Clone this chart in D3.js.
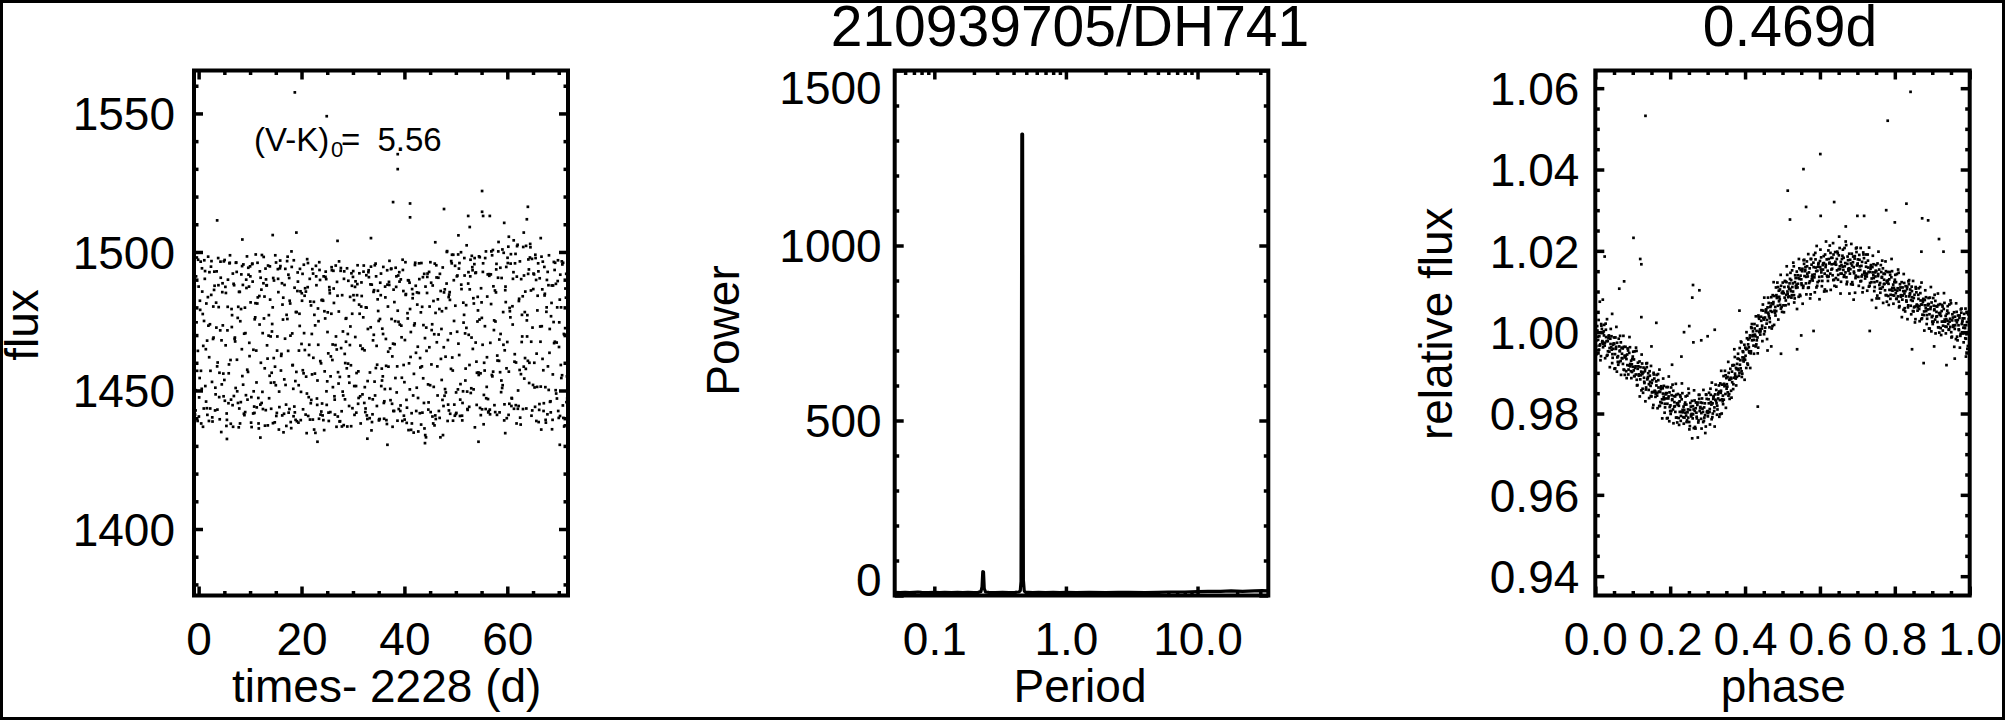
<!DOCTYPE html>
<html><head><meta charset="utf-8">
<script src="https://cdn.jsdelivr.net/npm/d3@7"></script>
<style>
body{margin:0;background:#fff}
svg{display:block}
text{font-family:"Liberation Sans",Arial,Helvetica,sans-serif;fill:#000}
</style></head>
<body><svg id="c" width="2005" height="720"></svg>
<script>
// ---------------- DATA ----------------
const titleMain = "210939705/DH741";
const titlePeriod = "0.469d";

// Panel 1 : light curve (time - 2228 d, flux), three interleaved cadence groups
const lcTime = [
-0.8,-0.6,-0.4,-0.2,
0,0.2,0.4,0.6,0.8,1,1.2,1.4,1.6,1.8,
2,2.2,2.4,2.6,2.8,3,3.2,3.4,3.6,3.8,
4,4.2,4.4,4.6,4.8,5,5.2,5.4,5.6,5.8,
6,6.2,6.4,6.6,6.8,7,7.2,7.4,7.6,7.8,
8,8.2,8.4,8.6,8.8,9,9.2,9.4,9.6,9.8,
10,10.2,10.4,10.6,10.8,11,11.2,11.4,11.6,11.8,
12,12.2,12.4,12.6,12.8,13,13.2,13.4,13.6,13.8,
14,14.2,14.4,14.6,14.8,15,15.2,15.4,15.6,15.8,
16,16.2,16.4,16.6,16.8,17,17.2,17.4,17.6,17.8,
18,18.2,18.4,18.6,18.8,19,19.2,19.4,19.6,19.8,
20,20.2,20.4,20.6,20.8,21,21.2,21.4,21.6,21.8,
22,22.2,22.4,22.6,22.8,23,23.2,23.4,23.6,23.8,
24,24.2,24.4,24.6,24.8,25,25.2,25.4,25.6,25.8,
26,26.2,26.4,26.6,26.8,27,27.2,27.4,27.6,27.8,
28,28.2,28.4,28.6,28.8,29,29.2,29.4,29.6,29.8,
30,30.2,30.4,30.6,30.8,31,31.2,31.4,31.6,31.8,
32,32.2,32.4,32.6,32.8,33,33.2,33.4,33.6,33.8,
34,34.2,34.4,34.6,34.8,35,35.2,35.4,35.6,35.8,
36,36.2,36.4,36.6,36.8,37,37.2,37.4,37.6,37.8,
38,38.2,38.4,38.6,38.8,39,39.2,39.4,39.6,39.8,
40,40.2,40.4,40.6,40.8,41,41.2,41.4,41.6,41.8,
42,42.2,42.4,42.6,42.8,43,43.2,43.4,43.6,43.8,
44,44.2,44.4,44.6,44.8,45,45.2,45.4,45.6,45.8,
46,46.2,46.4,46.6,46.8,47,47.2,47.4,47.6,47.8,
48,48.2,48.4,48.6,48.8,49,49.2,49.4,49.6,49.8,
50,50.2,50.4,50.6,50.8,51,51.2,51.4,51.6,51.8,
52,52.2,52.4,52.6,52.8,53,53.2,53.4,53.6,53.8,
54,54.2,54.4,54.6,54.8,55,55.2,55.4,55.6,55.8,
56,56.2,56.4,56.6,56.8,57,57.2,57.4,57.6,57.8,
58,58.2,58.4,58.6,58.8,59,59.2,59.4,59.6,59.8,
60,60.2,60.4,60.6,60.8,61,61.2,61.4,61.6,61.8,
62,62.2,62.4,62.6,62.8,63,63.2,63.4,63.6,63.8,
64,64.2,64.4,64.6,64.8,65,65.2,65.4,65.6,65.8,
66,66.2,66.4,66.6,66.8,67,67.2,67.4,67.6,67.8,
68,68.2,68.4,68.6,68.8,69,69.2,69.4,69.6,69.8,
70,70.2,70.4,70.6,70.8,71,71.2,71.4,71.6];
const lcFlux = [
1494.5,1442.8,1474.6,1439.0,1487.5,1454.5,1496.5,1450.6,1477.6,1443.5,1490.3,1464.9,1443.6,1483.7,1439.0,1473.9,1494.7,1453.1,1468.6,1486.3,1442.8,1481.7,1458.7,1497.8,1447.6,1471.7,1435.0,1485.5,1456.1,
1453.8,1487.4,1437.2,1471.7,1445.4,1495.9,1461.0,1479.4,1444.7,1488.5,1468.6,1450.9,1492.8,1476.2,1436.7,1485.6,1445.8,1464.9,1488.1,1441.6,1479.9,1448.3,1498.4,1456.7,1487.5,
1494.8,1438.4,1495.6,1441.7,1444.2,1476.4,1464.4,1481.4,1447.3,1484.1,1444.9,1486.4,1449.5,1488.7,1483.9,1494.0,1487.9,1461.5,1469.8,1455.3,1469.5,1456.4,1480.0,1461.7,1438.5,1451.9,1441.9,1493.8,1435.9,
1494.1,1457.2,1488.7,1475.6,1441.6,1468.7,1444.9,1496.7,1464.3,1490.6,1481.4,1436.4,1470.6,1450.6,1444.2,1453.4,1456.7,1485.9,1438.4,1477.7,1485.8,
1466.8,1492.1,1456.2,1484.2,1441.3,1434.6,1487.3,1447.6,
1490.3,1445.4,1470.4,1439.5,1482.0,1456.1,1495.0,1447.1,1479.6,1439.8,1489.9,1459.8,1445.3,1482.4,1435.7,1476.0,1490.2,1453.3,1463.4,1487.3,1442.2,1477.7,1461.0,1493.2,1447.9,1466.4,1436.9,1484.2,1452.5,
1438.8,1493.2,1442.5,1449.6,1437.5,1463.2,1475.9,1458.0,1470.4,1455.1,1466.4,1459.1,1487.8,
1491.0,1482.6,1487.4,1451.6,1484.4,1445.2,1481.0,1447.9,1480.3,1465.0,1476.4,1445.5,1442.2,1491.6,1439.7,1492.7,
1447.2,1488.3,1435.6,1441.4,1485.6,1453.2,1495.8,1466.1,1482.9,1475.1,1439.7,1484.4,1457.9,1455.1,1445.5,1450.5,1468.6,1437.9,1480.3,1489.2,1465.2,1493.8,1445.2,1466.9,1442.6,1475.0,1487.4,1458.7,1491.5,
1492.7,1442.6,1473.4,1439.0,1485.9,
1453.0,1496.3,1446.6,1477.9,1435.7,1488.9,1462.1,1441.8,1483.3,1434.8,1474.2,1487.8,1451.0,1465.8,1485.2,1441.8,1478.2,1458.7,1490.9,1445.5,1468.9,1433.1,1485.2,1452.2,
1492.8,1451.9,1488.9,1473.9,1438.1,1470.3,1441.0,1495.2,1458.7,1490.7,1479.4,1433.1,1472.2,1446.6,1444.4,1448.1,
1462.2,1488.6,1439.0,1483.7,1485.5,1470.6,1495.9,1457.2,1489.8,1440.9,1441.5,1491.2,1450.4,
1494.0,1440.8,1499.9,1440.9,1449.7,1477.3,1470.6,1480.8,1449.6,1488.6,1444.1,1491.2,1450.8,1494.5,1483.3,1495.6,1492.4,1460.4,1474.9,1456.5,1475.6,1456.2,1481.8,1466.5,1437.8,1457.2,1443.3,
1451.3,1491.9,1442.5,1443.1,1491.9,1455.6,1500.7,1471.8,1486.1,1485.4,1441.2,1490.7,1460.7,1456.6,1449.4,1450.9,1478.3,1439.2,1486.2,1494.6,1467.5,1501.9,1445.2,1476.4,1444.4,1480.4,1492.7,1460.4,1499.3,
1438.1,1502.6,1444.4,1457.4,1437.7,1467.5,1484.0,1458.6,1478.3,1457.8,1475.3,1460.7,1493.7,1498.0,1486.1,1497.5,1452.0,1491.9,1444.1,1489.9,1451.3,
1495.9,1443.0,1473.1,1435.9,1486.5,1457.3,1494.6,1451.2,1478.4,1441.4,1488.0,1463.6,1446.1,1481.6,1439.4,1474.7,1493.5,1450.1,1467.3,1489.5,1440.1,1482.8,1459.2,1496.6,1444.6,1470.4,1437.4,1483.5,1455.1];
const lcTime2 = [
-0.7,-0.5,-0.3,-0.1,
0.1,0.3,0.5,0.7,0.9,1.1,1.3,1.5,1.7,1.9,
2.1,2.3,2.5,2.7,2.9,3.1,3.3,3.5,3.7,3.9,
4.1,4.3,4.5,4.7,4.9,5.1,5.3,5.5,5.7,5.9,
6.1,6.3,6.5,6.7,6.9,7.1,7.3,7.5,7.7,7.9,
8.1,8.3,8.5,8.7,8.9,9.1,9.3,9.5,9.7,9.9,
10.1,10.3,10.5,10.7,10.9,11.1,11.3,11.5,11.7,11.9,
12.1,12.3,12.5,12.7,12.9,13.1,13.3,13.5,13.7,13.9,
14.1,14.3,14.5,14.7,14.9,15.1,15.3,15.5,15.7,15.9,
16.1,16.3,16.5,16.7,16.9,17.1,17.3,17.5,17.7,17.9,
18.1,18.3,18.5,18.7,18.9,19.1,19.3,19.5,19.7,19.9,
20.1,20.3,20.5,20.7,20.9,21.1,21.3,21.5,21.7,21.9,
22.1,22.3,22.5,22.7,22.9,23.1,23.3,23.5,23.7,23.9,
24.1,24.3,24.5,24.7,24.9,25.1,25.3,25.5,25.7,25.9,
26.1,26.3,26.5,26.7,26.9,27.1,27.3,27.5,27.7,27.9,
28.1,28.3,28.5,28.7,28.9,29.1,29.3,29.5,29.7,29.9,
30.1,30.3,30.5,30.7,30.9,31.1,31.3,31.5,31.7,31.9,
32.1,32.3,32.5,32.7,32.9,33.1,33.3,33.5,33.7,33.9,
34.1,34.3,34.5,34.7,34.9,35.1,35.3,35.5,35.7,35.9,
36.1,36.3,36.5,36.7,36.9,37.1,37.3,37.5,37.7,37.9,
38.1,38.3,38.5,38.7,38.9,39.1,39.3,39.5,39.7,39.9,
40.1,40.3,40.5,40.7,40.9,41.1,41.3,41.5,41.7,41.9,
42.1,42.3,42.5,42.7,42.9,43.1,43.3,43.5,43.7,43.9,
44.1,44.3,44.5,44.7,44.9,45.1,45.3,45.5,45.7,45.9,
46.1,46.3,46.5,46.7,46.9,47.1,47.3,47.5,47.7,47.9,
48.1,48.3,48.5,48.7,48.9,49.1,49.3,49.5,49.7,49.9,
50.1,50.3,50.5,50.7,50.9,51.1,51.3,51.5,51.7,51.9,
52.1,52.3,52.5,52.7,52.9,53.1,53.3,53.5,53.7,53.9,
54.1,54.3,54.5,54.7,54.9,55.1,55.3,55.5,55.7,55.9,
56.1,56.3,56.5,56.7,56.9,57.1,57.3,57.5,57.7,57.9,
58.1,58.3,58.5,58.7,58.9,59.1,59.3,59.5,59.7,59.9,
60.1,60.3,60.5,60.7,60.9,61.1,61.3,61.5,61.7,61.9,
62.1,62.3,62.5,62.7,62.9,63.1,63.3,63.5,63.7,63.9,
64.1,64.3,64.5,64.7,64.9,65.1,65.3,65.5,65.7,65.9,
66.1,66.3,66.5,66.7,66.9,67.1,67.3,67.5,67.7,67.9,
68.1,68.3,68.5,68.7,68.9,69.1,69.3,69.5,69.7,69.9,
70.1,70.3,70.5,70.7,70.9,71.1,71.3,71.5,71.7];
const lcFlux2 = [
1441.3,1491.2,1457.1,1497.2,1447.5,1479.1,1438.1,1485.7,1466.1,1497.0,1451.6,1481.4,1441.2,1473.4,1492.7,1457.1,1496.7,1438.8,1469.1,1487.8,
1448.6,1493.0,1460.1,1480.1,1439.6,1490.7,1452.2,1473.5,1496.6,1446.3,1485.2,1439.4,1490.0,1459.4,1498.8,1446.7,1477.2,1436.9,1488.0,1467.7,
1496.2,1449.7,1480.2,1443.5,1475.0,1491.9,1455.2,1495.5,1441.1,1470.7,1487.0,1446.7,1491.8,1462.4,
1481.8,1436.8,1489.3,1449.7,1475.7,1499.1,1443.9,1483.6,1436.3,1493.0,1460.0,1498.9,1443.3,1476.0,1437.3,1490.1,1466.3,1495.1,1447.2,1482.8,
1443.4,1474.0,1490.6,1452.9,1498.8,1440.8,1469.5,1485.5,1444.0,1494.9,1463.2,1481.0,1434.9,1488.1,1452.0,1477.3,1498.3,1442.0,1482.4,1438.6,
1494.6,1459.2,1497.0,1442.1,1478.3,1438.9,1489.3,1464.4,1493.9,1449.5,
1482.4,1443.2,1470.7,1486.9,1455.0,1497.4,1440.8,1466.5,1482.1,1446.6,1493.8,1461.8,1477.3,1434.7,1488.0,1453.6,1475.0,1493.5,1441.3,1482.6,
1441.0,1491.2,1456.9,1492.9,1444.8,1478.2,1439.0,1485.1,1462.3,1493.4,1451.2,1481.6,1441.3,1469.5,1489.2,1456.6,1496.6,1438.9,1465.3,1484.4,
1448.2,1493.0,1459.9,1476.1,1437.0,1489.6,1452.8,1473.1,1492.3,1443.6,
1484.4,1441.2,1489.4,1456.3,1495.2,1447.3,1477.7,1438.1,1484.1,1465.1,1495.1,1451.2,1480.0,1441.0,1472.2,1490.9,1456.5,1494.7,1438.6,1468.1,
1486.2,1448.2,1491.2,1459.3,1478.7,1439.6,1488.9,1451.6,1472.3,1494.6,1446.1,1483.6,1439.3,1488.2,1458.6,1496.8,1446.5,1475.8,1436.9,1486.4,
1466.7,1494.3,1449.3,1478.8,1443.3,1473.8,1490.1,1454.6,1493.5,1440.9,
1468.2,1484.8,1443.8,1489.8,1459.8,1479.4,1435.8,1486.6,1448.2,1473.5,1496.1,1442.6,1481.0,1435.2,1490.2,1458.3,1496.0,1442.0,1473.6,1436.3,
1487.5,1464.3,1492.2,1445.7,1480.3,1442.2,1471.8,1487.9,1451.3,1495.8,1439.7,1467.4,1482.9,1442.6,1492.1,1461.4,1478.6,1433.9,1485.4,1450.5,
1479.7,1500.3,1444.9,1484.6,1441.6,1496.7,1461.9,1499.0,1444.9,1480.6,1441.9,1491.5,1466.9,1496.0,1452.3,1486.6,1445.5,1474.5,1491.5,1457.9,
1502.4,1443.0,1470.1,1486.5,1449.1,1498.6,1465.0,1481.4,1436.7,1492.6,1456.4,1478.9,1498.4,1443.7,1486.9,1443.2,1495.9,1460.0,1497.8,1447.2,
1483.9,1442.1,1491.4,1467.2,1500.2,1455.1,1487.6,1444.7,1474.9,1495.7,1460.8,1503.6,1442.1,1470.4,1490.6,1451.9,1499.7,1464.5,1481.9,1440.0,
1496.0,1456.8,1478.6,1499.2,1447.1,1490.3,1443.4,1495.9,1460.1,1502.1,1450.0,1483.1,1440.2,1490.2,1469.5,1501.8,1454.3,1485.7,1443.5,1477.2,
1497.3,1460.0,1501.7,1440.9,1472.7,1492.2,1451.1,1497.8,1463.3,1484.2,
1438.6,1490.5,1451.4,1473.2,1496.5,1445.4,1484.9,1438.4,1489.9,1458.7,1498.8,1445.9,1476.8,1436.0,1487.9,1467.1,1496.1,1448.9,1480.0,1442.6,
1474.6,1491.8,1454.5,1495.5,1440.1,1470.2,1486.8,1445.8,1491.8];
const lcTime3 = [
-0.75,-0.55,-0.35,-0.15,
0.05,0.25,0.45,0.65,0.85,1.05,1.25,1.45,1.65,1.85,
2.05,2.25,2.45,2.65,2.85,3.05,3.25,3.45,3.65,3.85,
4.05,4.25,4.45,4.65,4.85,5.05,5.25,5.45,5.65,5.85,
6.05,6.25,6.45,6.65,6.85,7.05,7.25,7.45,7.65,7.85,
8.05,8.25,8.45,8.65,8.85,9.05,9.25,9.45,9.65,9.85,
10.05,10.25,10.45,10.65,10.85,11.05,11.25,11.45,11.65,11.85,
12.05,12.25,12.45,12.65,12.85,13.05,13.25,13.45,13.65,13.85,
14.05,14.25,14.45,14.65,14.85,15.05,15.25,15.45,15.65,15.85,
16.05,16.25,16.45,16.65,16.85,17.05,17.25,17.45,17.65,17.85,
18.05,18.25,18.45,18.65,18.85,19.05,19.25,19.45,19.65,19.85,
20.05,20.25,20.45,20.65,20.85,21.05,21.25,21.45,21.65,21.85,
22.05,22.25,22.45,22.65,22.85,23.05,23.25,23.45,23.65,23.85,
24.05,24.25,24.45,24.65,24.85,25.05,25.25,25.45,25.65,25.85,
26.05,26.25,26.45,26.65,26.85,27.05,27.25,27.45,27.65,27.85,
28.05,28.25,28.45,28.65,28.85,29.05,29.25,29.45,29.65,29.85,
30.05,30.25,30.45,30.65,30.85,31.05,31.25,31.45,31.65,31.85,
32.05,32.25,32.45,32.65,32.85,33.05,33.25,33.45,33.65,33.85,
34.05,34.25,34.45,34.65,34.85,35.05,35.25,35.45,35.65,35.85,
36.05,36.25,36.45,36.65,36.85,37.05,37.25,37.45,37.65,37.85,
38.05,38.25,38.45,38.65,38.85,39.05,39.25,39.45,39.65,39.85,
40.05,40.25,40.45,40.65,40.85,41.05,41.25,41.45,41.65,41.85,
42.05,42.25,42.45,42.65,42.85,43.05,43.25,43.45,43.65,43.85,
44.05,44.25,44.45,44.65,44.85,45.05,45.25,45.45,45.65,45.85,
46.05,46.25,46.45,46.65,46.85,47.05,47.25,47.45,47.65,47.85,
48.05,48.25,48.45,48.65,48.85,49.05,49.25,49.45,49.65,49.85,
50.05,50.25,50.45,50.65,50.85,51.05,51.25,51.45,51.65,51.85,
52.05,52.25,52.45,52.65,52.85,53.05,53.25,53.45,53.65,53.85,
54.05,54.25,54.45,54.65,54.85,55.05,55.25,55.45,55.65,55.85,
56.05,56.25,56.45,56.65,56.85,57.05,57.25,57.45,57.65,57.85,
58.05,58.25,58.45,58.65,58.85,59.05,59.25,59.45,59.65,59.85,
60.05,60.25,60.45,60.65,60.85,61.05,61.25,61.45,61.65,61.85,
62.05,62.25,62.45,62.65,62.85,63.05,63.25,63.45,63.65,63.85,
64.05,64.25,64.45,64.65,64.85,65.05,65.25,65.45,65.65,65.85,
66.05,66.25,66.45,66.65,66.85,67.05,67.25,67.45,67.65,67.85,
68.05,68.25,68.45,68.65,68.85,69.05,69.25,69.45,69.65,69.85,
70.05,70.25,70.45,70.65,70.85,71.05,71.25,71.45,71.65];
const lcFlux3 = [
1487.6,1450.1,1498.0,1464.3,1440.6,1482.4,1457.1,1494.1,1436.9,1475.1,1493.1,1446.0,1468.0,1498.3,1462.0,1443.5,1484.5,1440.3,1480.3,1492.9,
1451.0,1472.7,1443.1,1488.0,1456.4,1496.5,1468.1,1488.7,1447.9,1497.1,1466.3,1441.7,1480.2,1456.2,1496.1,1438.0,1472.9,1492.2,1448.0,1469.1,
1496.1,1461.1,1445.5,1485.6,1438.1,1479.4,1494.9,1452.1,1470.5,1442.2,1490.0,1457.5,1494.3,1467.2,
1491.2,1447.6,1495.8,1464.7,1441.9,1481.5,1452.9,1496.1,1438.1,1473.8,1490.7,1445.5,1470.7,1498.2,1458.0,1442.9,1488.0,1437.4,1477.2,1494.8,
1452.8,1471.3,1438.2,1489.7,1458.6,1496.2,1464.4,1490.3,1449.6,1496.9,1462.5,1441.0,1483.5,1454.0,1493.9,1437.2,1475.8,1491.8,1443.3,1469.8,
1500.2,1459.1,1440.7,1487.1,1439.4,1478.3,1492.6,1451.9,1473.3,1439.3,
1485.1,1457.3,1495.4,1464.6,1485.7,1448.9,1496.0,1462.8,1439.5,1480.7,1455.8,1492.2,1435.9,1473.5,1491.2,1444.8,1466.5,1496.3,1460.6,1442.4,
1482.7,1439.3,1478.6,1491.0,1449.7,1471.1,1442.0,1486.2,1455.1,1494.5,1466.6,1486.8,1446.7,1495.1,1464.8,1440.6,1478.5,1454.9,1494.2,1437.0,
1471.3,1490.3,1446.8,1467.6,1494.1,1459.7,1444.4,1483.8,1437.1,1477.7,
1493.1,1451.6,1469.3,1442.0,1488.4,1456.9,1492.3,1466.2,1489.0,1448.6,1492.9,1464.5,1443.5,1479.9,1453.4,1493.4,1440.0,1472.8,1488.2,1446.8,
1470.1,1495.2,1458.1,1444.4,1486.0,1439.2,1475.8,1492.2,1453.6,1470.4,1439.8,1487.5,1458.9,1493.4,1464.0,1488.1,1450.6,1494.0,1462.3,1442.6,
1481.9,1454.5,1491.2,1439.1,1474.8,1489.3,1444.6,1469.2,1497.2,1459.2,
1439.5,1484.5,1438.3,1476.0,1489.7,1450.4,1471.1,1438.1,1484.8,1456.0,1495.3,1463.6,1485.4,1447.3,1495.9,1461.7,1437.7,1480.2,1454.4,1492.1,
1433.9,1472.7,1491.0,1443.1,1465.6,1496.3,1459.4,1440.6,1482.3,1437.4,1478.0,1490.8,1448.2,1470.2,1440.1,1485.9,1453.8,1494.4,1465.6,1486.5,
1449.3,1500.0,1468.2,1442.8,1482.7,1457.8,1499.0,1439.1,1475.1,1495.0,1449.3,1471.2,1499.1,1462.8,1446.7,1488.2,1439.2,1481.7,1497.8,1453.6,
1472.6,1443.3,1492.7,1459.2,1497.2,1469.1,1493.4,1450.4,1497.8,1467.3,1444.8,1483.8,1455.6,1498.1,1441.1,1476.2,1492.8,1448.4,1473.2,1500.2,
1462.0,1446.9,1492.0,1441.4,1481.2,1498.8,1456.8,1475.3,1442.2,1493.7,1462.6,1500.2,1468.4,1494.3,1453.6,1500.9,1466.5,1445.0,1487.5,1458.0,
1497.9,1441.2,1479.8,1495.8,1447.3,1473.8,1504.2,1463.1,1444.7,1491.1,1443.4,1482.3,1496.6,1455.9,1477.3,1443.3,1491.5,1461.7,1502.2,1469.5,
1492.1,1452.7,1502.9,1467.6,1442.8,1486.6,1460.0,1499.0,1439.0,1478.9,
1493.0,1445.1,1467.6,1498.3,1461.4,1442.6,1484.3,1439.4,1480.0,1492.8,1450.2,1472.2,1442.1,1487.9,1455.8,1496.4,1467.6,1488.5,1447.1,1497.0,
1465.7,1440.8,1480.0,1455.5,1496.1,1437.0,1472.5,1492.1,1447.1];
const lcOutTime = [18.7,24.9,38.7,38.7,37.8,41.1,41.1,47.7,55.1,55.1,55.3,56.6,52.4,52.7,64.0,63.8,59.4,3.6,19.0,14.4,8.5,27.0,33.5,46.0,50.5,60.3,63.2,66.5,23.1,36.7,54.4,70.2,32.8,59.6,5.5,12.0,44.0];
const lcOutFlux = [1557.6,1549.0,1535.3,1529.9,1518.0,1517.5,1512.5,1515.5,1522.0,1514.5,1513.0,1513.0,1513.0,1509.0,1516.3,1511.8,1510.5,1511.4,1507.0,1506.1,1504.5,1504.0,1505.0,1503.5,1506.0,1505.5,1507.0,1505.0,1431.5,1430.4,1431.5,1430.4,1432.6,1434.6,1432.5,1433.0,1431.0];

// Panel 2 : periodogram (period d, power)
const perPeriod = [0.05,0.055,0.06,0.065,0.07,0.075,0.08,0.09,0.1,0.11,0.12,0.135,0.15,0.165,0.18,0.2,0.215,0.226,0.2305,0.2335,0.2365,0.2395,0.245,0.26,0.29,0.33,0.37,0.41,0.44,0.45,0.456,0.4625,0.4685,0.475,0.482,0.49,0.52,0.56,0.62,0.7,0.8,0.9,1.0,1.2,1.5,2,2.5,3,4,5,6,8,10,12,15,18,22,27,31,34.5];
const perPower  = [9,8,9,8,9,10,9,8,9,8,9,8,9,8,9,8,9,11,25,68,67,20,10,9,8,9,8,9,10,14,40,1318,1318,45,14,10,9,8,9,8,9,8,9,8,9,8,9,9,8,9,10,10,11,12,12,13,12,13,14,13];

// Panel 3 : folded light curve (phase, relative flux), three groups + outliers
const foldPhase = [
0.0013,0.0038,0.0063,0.0088,0.0113,0.0138,0.0163,0.0188, 0.0213,0.0238,0.0263,0.0288,0.0313,0.0338,0.0363,0.0388,
0.0413,0.0438,0.0463,0.0488,0.0513,0.0538,0.0563,0.0588, 0.0613,0.0638,0.0663,0.0688,0.0713,0.0738,0.0763,0.0788,
0.0813,0.0838,0.0863,0.0888,0.0913,0.0938,0.0963,0.0988, 0.1013,0.1038,0.1063,0.1088,0.1113,0.1138,0.1163,0.1188,
0.1213,0.1238,0.1263,0.1288,0.1313,0.1338,0.1363,0.1388, 0.1413,0.1438,0.1463,0.1488,0.1513,0.1538,0.1563,0.1588,
0.1613,0.1638,0.1663,0.1688,0.1713,0.1738,0.1763,0.1788, 0.1813,0.1838,0.1863,0.1888,0.1913,0.1938,0.1963,0.1988,
0.2013,0.2038,0.2063,0.2088,0.2113,0.2138,0.2163,0.2188, 0.2213,0.2238,0.2263,0.2288,0.2313,0.2338,0.2363,0.2388,
0.2413,0.2438,0.2463,0.2488,0.2513,0.2538,0.2563,0.2588, 0.2613,0.2638,0.2663,0.2688,0.2713,0.2738,0.2763,0.2788,
0.2813,0.2838,0.2863,0.2888,0.2913,0.2938,0.2963,0.2988, 0.3013,0.3038,0.3063,0.3088,0.3113,0.3138,0.3163,0.3188,
0.3213,0.3238,0.3263,0.3288,0.3313,0.3338,0.3363,0.3388, 0.3413,0.3438,0.3463,0.3488,0.3513,0.3538,0.3563,0.3588,
0.3613,0.3638,0.3663,0.3688,0.3713,0.3738,0.3763,0.3788, 0.3813,0.3838,0.3863,0.3888,0.3913,0.3938,0.3963,0.3988,
0.4013,0.4038,0.4063,0.4088,0.4113,0.4138,0.4163,0.4188, 0.4213,0.4238,0.4263,0.4288,0.4313,0.4338,0.4363,0.4388,
0.4413,0.4438,0.4463,0.4488,0.4513,0.4538,0.4563,0.4588, 0.4613,0.4638,0.4663,0.4688,0.4713,0.4738,0.4763,0.4788,
0.4813,0.4838,0.4863,0.4888,0.4913,0.4938,0.4963,0.4988, 0.5013,0.5038,0.5063,0.5088,0.5113,0.5138,0.5163,0.5188,
0.5213,0.5238,0.5263,0.5288,0.5313,0.5338,0.5363,0.5388, 0.5413,0.5438,0.5463,0.5488,0.5513,0.5538,0.5563,0.5588,
0.5613,0.5638,0.5663,0.5688,0.5713,0.5738,0.5763,0.5788, 0.5813,0.5838,0.5863,0.5888,0.5913,0.5938,0.5963,0.5988,
0.6013,0.6038,0.6063,0.6088,0.6113,0.6138,0.6163,0.6188, 0.6213,0.6238,0.6263,0.6288,0.6313,0.6338,0.6363,0.6388,
0.6413,0.6438,0.6463,0.6488,0.6513,0.6538,0.6563,0.6588, 0.6613,0.6638,0.6663,0.6688,0.6713,0.6738,0.6763,0.6788,
0.6813,0.6838,0.6863,0.6888,0.6913,0.6938,0.6963,0.6988, 0.7013,0.7038,0.7063,0.7088,0.7113,0.7138,0.7163,0.7188,
0.7213,0.7238,0.7263,0.7288,0.7313,0.7338,0.7363,0.7388, 0.7413,0.7438,0.7463,0.7488,0.7513,0.7538,0.7563,0.7588,
0.7613,0.7638,0.7663,0.7688,0.7713,0.7738,0.7763,0.7788, 0.7813,0.7838,0.7863,0.7888,0.7913,0.7938,0.7963,0.7988,
0.8013,0.8038,0.8063,0.8088,0.8113,0.8138,0.8163,0.8188, 0.8213,0.8238,0.8263,0.8288,0.8313,0.8338,0.8363,0.8388,
0.8413,0.8438,0.8463,0.8488,0.8513,0.8538,0.8563,0.8588, 0.8613,0.8638,0.8663,0.8688,0.8713,0.8738,0.8763,0.8788,
0.8813,0.8838,0.8863,0.8888,0.8913,0.8938,0.8963,0.8988, 0.9013,0.9038,0.9063,0.9088,0.9113,0.9138,0.9163,0.9188,
0.9213,0.9238,0.9263,0.9288,0.9313,0.9338,0.9363,0.9388, 0.9413,0.9438,0.9463,0.9488,0.9513,0.9538,0.9563,0.9588,
0.9613,0.9638,0.9663,0.9688,0.9713,0.9738,0.9763,0.9788, 0.9813,0.9838,0.9863,0.9888,0.9913,0.9938,0.9963,0.9988];
const foldFlux = [
1.0005,0.9946,0.9989,1.0030,0.9967,0.9931,1.0016,0.9978, 0.9971,1.0018,0.9936,0.9988,1.0032,0.9953,0.9992,0.9914,
1.0008,0.9957,0.9937,0.9972,0.9910,0.9987,1.0013,0.9938, 0.9920,0.9965,0.9991,0.9895,0.9947,0.9922,0.9964,0.9895,
0.9942,0.9887,0.9960,0.9908,0.9988,0.9916,0.9887,0.9934, 0.9952,0.9892,0.9912,0.9962,0.9869,0.9925,0.9893,0.9842,
0.9894,0.9945,0.9861,0.9913,0.9875,0.9830,0.9923,0.9884, 0.9899,0.9838,0.9878,0.9917,0.9852,0.9814,0.9896,0.9856,
0.9849,0.9895,0.9813,0.9864,0.9908,0.9828,0.9867,0.9788, 0.9886,0.9835,0.9815,0.9850,0.9788,0.9865,0.9891,0.9816,
0.9799,0.9845,0.9871,0.9776,0.9828,0.9804,0.9846,0.9778, 0.9826,0.9772,0.9845,0.9794,0.9874,0.9803,0.9775,0.9822,
0.9842,0.9779,0.9803,0.9861,0.9761,0.9826,0.9793,0.9739, 0.9798,0.9857,0.9767,0.9827,0.9788,0.9741,0.9846,0.9806,
0.9827,0.9763,0.9812,0.9858,0.9790,0.9752,0.9846,0.9805, 0.9801,0.9851,0.9773,0.9828,0.9876,0.9800,0.9843,0.9768,
0.9871,0.9825,0.9810,0.9850,0.9792,0.9874,0.9905,0.9835, 0.9823,0.9873,0.9905,0.9814,0.9872,0.9852,0.9900,0.9836,
0.9888,0.9839,0.9918,0.9872,0.9958,0.9892,0.9869,0.9922, 0.9947,0.9893,0.9920,0.9977,0.9890,0.9953,0.9928,0.9883,
0.9942,1.0000,0.9923,0.9982,0.9950,0.9912,1.0012,0.9980, 1.0002,0.9947,0.9994,1.0039,0.9980,0.9948,1.0037,1.0003,
1.0002,1.0054,0.9978,1.0035,1.0085,1.0011,1.0056,0.9983, 1.0085,1.0039,1.0025,1.0065,1.0009,1.0091,1.0123,1.0053,
1.0041,1.0091,1.0122,1.0031,1.0087,1.0067,1.0114,1.0050, 1.0100,1.0049,1.0126,1.0078,1.0162,1.0094,1.0069,1.0120,
1.0146,1.0085,1.0111,1.0171,1.0073,1.0140,1.0109,1.0057, 1.0119,1.0180,1.0092,1.0153,1.0116,1.0070,1.0177,1.0138,
1.0160,1.0093,1.0144,1.0192,1.0121,1.0083,1.0180,1.0137, 1.0135,1.0190,1.0098,1.0159,1.0212,1.0123,1.0170,1.0081,
1.0203,1.0147,1.0126,1.0169,1.0100,1.0191,1.0223,1.0139, 1.0126,1.0180,1.0213,1.0104,1.0167,1.0140,1.0191,1.0114,
1.0173,1.0112,1.0198,1.0141,1.0235,1.0155,1.0124,1.0180, 1.0203,1.0136,1.0162,1.0223,1.0118,1.0186,1.0151,1.0095,
1.0155,1.0217,1.0123,1.0186,1.0145,1.0097,1.0206,1.0164, 1.0179,1.0114,1.0162,1.0207,1.0137,1.0098,1.0191,1.0149,
1.0139,1.0191,1.0102,1.0159,1.0208,1.0121,1.0165,1.0079, 1.0188,1.0133,1.0111,1.0151,1.0083,1.0169,1.0198,1.0116,
1.0097,1.0148,1.0176,1.0072,1.0129,1.0103,1.0150,1.0075, 1.0127,1.0067,1.0148,1.0092,1.0180,1.0102,1.0070,1.0123,
1.0141,1.0082,1.0102,1.0154,1.0061,1.0118,1.0087,1.0037, 1.0090,1.0143,1.0059,1.0113,1.0075,1.0032,1.0125,1.0088,
1.0105,1.0044,1.0086,1.0126,1.0061,1.0024,1.0107,1.0068, 1.0061,1.0108,1.0027,1.0078,1.0122,1.0043,1.0082,1.0004,
1.0103,1.0052,1.0033,1.0069,1.0009,1.0085,1.0111,1.0037, 1.0020,1.0065,1.0092,0.9997,1.0050,1.0025,1.0067,0.9999,
1.0047,0.9993,1.0067,1.0016,1.0096,1.0026,0.9997,1.0045, 1.0064,1.0006,1.0026,1.0078,0.9987,1.0044,1.0013,0.9964,
1.0017,1.0071,0.9989,1.0041,1.0005,0.9962,1.0056,1.0020, 1.0034,0.9975,1.0017,1.0058,0.9995,0.9959,1.0044,1.0006];
const foldPhase2 = [
0.0001,0.0026,0.0051,0.0076,0.0101,0.0126,0.0151,0.0176, 0.0201,0.0226,0.0251,0.0276,0.0301,0.0326,0.0351,0.0376,
0.0401,0.0426,0.0451,0.0476,0.0501,0.0526,0.0551,0.0576, 0.0601,0.0626,0.0651,0.0676,0.0701,0.0726,0.0751,0.0776,
0.0801,0.0826,0.0851,0.0876,0.0901,0.0926,0.0951,0.0976, 0.1001,0.1026,0.1051,0.1076,0.1101,0.1126,0.1151,0.1176,
0.1201,0.1226,0.1251,0.1276,0.1301,0.1326,0.1351,0.1376, 0.1401,0.1426,0.1451,0.1476,0.1501,0.1526,0.1551,0.1576,
0.1601,0.1626,0.1651,0.1676,0.1701,0.1726,0.1751,0.1776, 0.1801,0.1826,0.1851,0.1876,0.1901,0.1926,0.1951,0.1976,
0.2001,0.2026,0.2051,0.2076,0.2101,0.2126,0.2151,0.2176, 0.2201,0.2226,0.2251,0.2276,0.2301,0.2326,0.2351,0.2376,
0.2401,0.2426,0.2451,0.2476,0.2501,0.2526,0.2551,0.2576, 0.2601,0.2626,0.2651,0.2676,0.2701,0.2726,0.2751,0.2776,
0.2801,0.2826,0.2851,0.2876,0.2901,0.2926,0.2951,0.2976, 0.3001,0.3026,0.3051,0.3076,0.3101,0.3126,0.3151,0.3176,
0.3201,0.3226,0.3251,0.3276,0.3301,0.3326,0.3351,0.3376, 0.3401,0.3426,0.3451,0.3476,0.3501,0.3526,0.3551,0.3576,
0.3601,0.3626,0.3651,0.3676,0.3701,0.3726,0.3751,0.3776, 0.3801,0.3826,0.3851,0.3876,0.3901,0.3926,0.3951,0.3976,
0.4001,0.4026,0.4051,0.4076,0.4101,0.4126,0.4151,0.4176, 0.4201,0.4226,0.4251,0.4276,0.4301,0.4326,0.4351,0.4376,
0.4401,0.4426,0.4451,0.4476,0.4501,0.4526,0.4551,0.4576, 0.4601,0.4626,0.4651,0.4676,0.4701,0.4726,0.4751,0.4776,
0.4801,0.4826,0.4851,0.4876,0.4901,0.4926,0.4951,0.4976, 0.5001,0.5026,0.5051,0.5076,0.5101,0.5126,0.5151,0.5176,
0.5201,0.5226,0.5251,0.5276,0.5301,0.5326,0.5351,0.5376, 0.5401,0.5426,0.5451,0.5476,0.5501,0.5526,0.5551,0.5576,
0.5601,0.5626,0.5651,0.5676,0.5701,0.5726,0.5751,0.5776, 0.5801,0.5826,0.5851,0.5876,0.5901,0.5926,0.5951,0.5976,
0.6001,0.6026,0.6051,0.6076,0.6101,0.6126,0.6151,0.6176, 0.6201,0.6226,0.6251,0.6276,0.6301,0.6326,0.6351,0.6376,
0.6401,0.6426,0.6451,0.6476,0.6501,0.6526,0.6551,0.6576, 0.6601,0.6626,0.6651,0.6676,0.6701,0.6726,0.6751,0.6776,
0.6801,0.6826,0.6851,0.6876,0.6901,0.6926,0.6951,0.6976, 0.7001,0.7026,0.7051,0.7076,0.7101,0.7126,0.7151,0.7176,
0.7201,0.7226,0.7251,0.7276,0.7301,0.7326,0.7351,0.7376, 0.7401,0.7426,0.7451,0.7476,0.7501,0.7526,0.7551,0.7576,
0.7601,0.7626,0.7651,0.7676,0.7701,0.7726,0.7751,0.7776, 0.7801,0.7826,0.7851,0.7876,0.7901,0.7926,0.7951,0.7976,
0.8001,0.8026,0.8051,0.8076,0.8101,0.8126,0.8151,0.8176, 0.8201,0.8226,0.8251,0.8276,0.8301,0.8326,0.8351,0.8376,
0.8401,0.8426,0.8451,0.8476,0.8501,0.8526,0.8551,0.8576, 0.8601,0.8626,0.8651,0.8676,0.8701,0.8726,0.8751,0.8776,
0.8801,0.8826,0.8851,0.8876,0.8901,0.8926,0.8951,0.8976, 0.9001,0.9026,0.9051,0.9076,0.9101,0.9126,0.9151,0.9176,
0.9201,0.9226,0.9251,0.9276,0.9301,0.9326,0.9351,0.9376, 0.9401,0.9426,0.9451,0.9476,0.9501,0.9526,0.9551,0.9576,
0.9601,0.9626,0.9651,0.9676,0.9701,0.9726,0.9751,0.9776, 0.9801,0.9826,0.9851,0.9876,0.9901,0.9926,0.9951,0.9976];
const foldFlux2 = [
0.9993,0.9966,1.0015,0.9981,0.9957,0.9999,0.9941,1.0008, 0.9976,1.0002,0.9967,1.0021,0.9978,0.9944,0.9985,0.9952,
0.9984,0.9963,0.9924,0.9969,0.9987,0.9946,0.9959,0.9903, 0.9927,0.9984,0.9953,0.9929,0.9962,0.9936,0.9991,0.9907,
0.9938,0.9904,0.9945,0.9955,0.9918,0.9963,0.9904,0.9921, 0.9940,0.9906,0.9892,0.9916,0.9954,0.9870,0.9916,0.9896,
0.9884,0.9903,0.9923,0.9851,0.9888,0.9904,0.9859,0.9914, 0.9887,0.9858,0.9904,0.9868,0.9842,0.9882,0.9821,0.9886,
0.9854,0.9879,0.9844,0.9897,0.9854,0.9819,0.9860,0.9826, 0.9862,0.9841,0.9802,0.9847,0.9865,0.9824,0.9837,0.9781,
0.9806,0.9864,0.9833,0.9810,0.9843,0.9818,0.9873,0.9790, 0.9822,0.9789,0.9830,0.9841,0.9804,0.9850,0.9791,0.9809,
0.9827,0.9795,0.9783,0.9810,0.9850,0.9769,0.9817,0.9799, 0.9788,0.9810,0.9832,0.9763,0.9802,0.9821,0.9778,0.9836,
0.9813,0.9787,0.9837,0.9804,0.9782,0.9825,0.9768,0.9836, 0.9806,0.9835,0.9804,0.9861,0.9822,0.9791,0.9836,0.9806,
0.9847,0.9831,0.9797,0.9847,0.9869,0.9833,0.9851,0.9800, 0.9830,0.9892,0.9867,0.9848,0.9887,0.9866,0.9927,0.9848,
0.9884,0.9856,0.9903,0.9919,0.9888,0.9939,0.9886,0.9909, 0.9935,0.9907,0.9900,0.9931,0.9975,0.9898,0.9951,0.9937,
0.9932,0.9958,0.9985,0.9920,0.9963,0.9986,0.9948,1.0010, 0.9990,0.9967,1.0020,0.9990,0.9970,1.0016,0.9962,1.0033,
1.0007,1.0038,1.0009,1.0068,1.0031,1.0002,1.0049,1.0021, 1.0061,1.0045,1.0012,1.0062,1.0086,1.0050,1.0069,1.0018,
1.0048,1.0110,1.0084,1.0065,1.0102,1.0081,1.0141,1.0062, 1.0096,1.0066,1.0111,1.0125,1.0092,1.0141,1.0086,1.0107,
1.0131,1.0101,1.0091,1.0120,1.0162,1.0083,1.0133,1.0117, 1.0110,1.0133,1.0157,1.0089,1.0130,1.0150,1.0109,1.0168,
1.0150,1.0120,1.0174,1.0137,1.0110,1.0157,1.0093,1.0166, 1.0141,1.0171,1.0135,1.0195,1.0150,1.0114,1.0161,1.0126,
1.0175,1.0154,1.0113,1.0165,1.0187,1.0144,1.0160,1.0101, 1.0136,1.0201,1.0169,1.0144,1.0183,1.0156,1.0219,1.0129,
1.0168,1.0133,1.0180,1.0194,1.0155,1.0207,1.0144,1.0165, 1.0188,1.0153,1.0140,1.0170,1.0214,1.0124,1.0177,1.0157,
1.0144,1.0169,1.0193,1.0117,1.0160,1.0181,1.0133,1.0197, 1.0166,1.0136,1.0190,1.0153,1.0126,1.0173,1.0109,1.0182,
1.0145,1.0171,1.0137,1.0191,1.0148,1.0114,1.0156,1.0123, 1.0160,1.0140,1.0101,1.0147,1.0165,1.0125,1.0138,1.0083,
1.0107,1.0165,1.0134,1.0111,1.0144,1.0119,1.0174,1.0091, 1.0122,1.0089,1.0130,1.0141,1.0104,1.0150,1.0091,1.0109,
1.0129,1.0096,1.0082,1.0108,1.0146,1.0064,1.0110,1.0091, 1.0080,1.0101,1.0121,1.0051,1.0088,1.0106,1.0061,1.0118,
1.0093,1.0065,1.0112,1.0077,1.0051,1.0092,1.0032,1.0098, 1.0066,1.0092,1.0057,1.0111,1.0068,1.0034,1.0075,1.0042,
1.0079,1.0059,1.0020,1.0066,1.0084,1.0044,1.0057,1.0002, 1.0026,1.0084,1.0054,1.0031,1.0064,1.0039,1.0095,1.0012,
1.0043,1.0010,1.0052,1.0063,1.0026,1.0072,1.0014,1.0032, 1.0053,1.0020,1.0007,1.0033,1.0071,0.9989,1.0036,1.0017,
1.0008,1.0029,1.0050,0.9980,1.0017,1.0035,0.9991,1.0048, 1.0025,0.9997,1.0045,1.0010,0.9984,1.0025,0.9966,1.0032];
const foldPhase3 = [
0.0007,0.0032,0.0057,0.0082,0.0107,0.0132,0.0157,0.0182, 0.0207,0.0232,0.0257,0.0282,0.0307,0.0332,0.0357,0.0382,
0.0407,0.0432,0.0457,0.0482,0.0507,0.0532,0.0557,0.0582, 0.0607,0.0632,0.0657,0.0682,0.0707,0.0732,0.0757,0.0782,
0.0807,0.0832,0.0857,0.0882,0.0907,0.0932,0.0957,0.0982, 0.1007,0.1032,0.1057,0.1082,0.1107,0.1132,0.1157,0.1182,
0.1207,0.1232,0.1257,0.1282,0.1307,0.1332,0.1357,0.1382, 0.1407,0.1432,0.1457,0.1482,0.1507,0.1532,0.1557,0.1582,
0.1607,0.1632,0.1657,0.1682,0.1707,0.1732,0.1757,0.1782, 0.1807,0.1832,0.1857,0.1882,0.1907,0.1932,0.1957,0.1982,
0.2007,0.2032,0.2057,0.2082,0.2107,0.2132,0.2157,0.2182, 0.2207,0.2232,0.2257,0.2282,0.2307,0.2332,0.2357,0.2382,
0.2407,0.2432,0.2457,0.2482,0.2507,0.2532,0.2557,0.2582, 0.2607,0.2632,0.2657,0.2682,0.2707,0.2732,0.2757,0.2782,
0.2807,0.2832,0.2857,0.2882,0.2907,0.2932,0.2957,0.2982, 0.3007,0.3032,0.3057,0.3082,0.3107,0.3132,0.3157,0.3182,
0.3207,0.3232,0.3257,0.3282,0.3307,0.3332,0.3357,0.3382, 0.3407,0.3432,0.3457,0.3482,0.3507,0.3532,0.3557,0.3582,
0.3607,0.3632,0.3657,0.3682,0.3707,0.3732,0.3757,0.3782, 0.3807,0.3832,0.3857,0.3882,0.3907,0.3932,0.3957,0.3982,
0.4007,0.4032,0.4057,0.4082,0.4107,0.4132,0.4157,0.4182, 0.4207,0.4232,0.4257,0.4282,0.4307,0.4332,0.4357,0.4382,
0.4407,0.4432,0.4457,0.4482,0.4507,0.4532,0.4557,0.4582, 0.4607,0.4632,0.4657,0.4682,0.4707,0.4732,0.4757,0.4782,
0.4807,0.4832,0.4857,0.4882,0.4907,0.4932,0.4957,0.4982, 0.5007,0.5032,0.5057,0.5082,0.5107,0.5132,0.5157,0.5182,
0.5207,0.5232,0.5257,0.5282,0.5307,0.5332,0.5357,0.5382, 0.5407,0.5432,0.5457,0.5482,0.5507,0.5532,0.5557,0.5582,
0.5607,0.5632,0.5657,0.5682,0.5707,0.5732,0.5757,0.5782, 0.5807,0.5832,0.5857,0.5882,0.5907,0.5932,0.5957,0.5982,
0.6007,0.6032,0.6057,0.6082,0.6107,0.6132,0.6157,0.6182, 0.6207,0.6232,0.6257,0.6282,0.6307,0.6332,0.6357,0.6382,
0.6407,0.6432,0.6457,0.6482,0.6507,0.6532,0.6557,0.6582, 0.6607,0.6632,0.6657,0.6682,0.6707,0.6732,0.6757,0.6782,
0.6807,0.6832,0.6857,0.6882,0.6907,0.6932,0.6957,0.6982, 0.7007,0.7032,0.7057,0.7082,0.7107,0.7132,0.7157,0.7182,
0.7207,0.7232,0.7257,0.7282,0.7307,0.7332,0.7357,0.7382, 0.7407,0.7432,0.7457,0.7482,0.7507,0.7532,0.7557,0.7582,
0.7607,0.7632,0.7657,0.7682,0.7707,0.7732,0.7757,0.7782, 0.7807,0.7832,0.7857,0.7882,0.7907,0.7932,0.7957,0.7982,
0.8007,0.8032,0.8057,0.8082,0.8107,0.8132,0.8157,0.8182, 0.8207,0.8232,0.8257,0.8282,0.8307,0.8332,0.8357,0.8382,
0.8407,0.8432,0.8457,0.8482,0.8507,0.8532,0.8557,0.8582, 0.8607,0.8632,0.8657,0.8682,0.8707,0.8732,0.8757,0.8782,
0.8807,0.8832,0.8857,0.8882,0.8907,0.8932,0.8957,0.8982, 0.9007,0.9032,0.9057,0.9082,0.9107,0.9132,0.9157,0.9182,
0.9207,0.9232,0.9257,0.9282,0.9307,0.9332,0.9357,0.9382, 0.9407,0.9432,0.9457,0.9482,0.9507,0.9532,0.9557,0.9582,
0.9607,0.9632,0.9657,0.9682,0.9707,0.9732,0.9757,0.9782, 0.9807,0.9832,0.9857,0.9882,0.9907,0.9932,0.9957,0.9982];
const foldFlux3 = [
0.9996,0.9980,1.0004,0.9956,0.9990,0.9970,1.0020,0.9975, 0.9963,0.9992,0.9974,1.0006,0.9942,0.9978,0.9990,0.9961,
0.9971,0.9990,0.9946,0.9959,0.9972,0.9911,0.9964,0.9974, 0.9941,0.9926,0.9955,0.9975,0.9936,0.9960,0.9908,0.9942,
0.9964,0.9934,0.9919,0.9896,0.9949,0.9922,0.9930,0.9902, 0.9915,0.9933,0.9953,0.9896,0.9883,0.9910,0.9896,0.9928,
0.9914,0.9857,0.9897,0.9901,0.9878,0.9910,0.9864,0.9924, 0.9890,0.9872,0.9893,0.9843,0.9875,0.9853,0.9900,0.9853,
0.9841,0.9869,0.9851,0.9882,0.9818,0.9853,0.9865,0.9835, 0.9849,0.9868,0.9824,0.9837,0.9850,0.9789,0.9842,0.9852,
0.9820,0.9806,0.9835,0.9856,0.9817,0.9842,0.9790,0.9825, 0.9848,0.9819,0.9804,0.9782,0.9835,0.9809,0.9817,0.9790,
0.9802,0.9822,0.9844,0.9790,0.9779,0.9809,0.9797,0.9831, 0.9818,0.9764,0.9806,0.9813,0.9792,0.9827,0.9783,0.9846,
0.9816,0.9801,0.9826,0.9779,0.9815,0.9796,0.9847,0.9803, 0.9793,0.9825,0.9811,0.9846,0.9786,0.9825,0.9841,0.9815,
0.9834,0.9858,0.9819,0.9837,0.9854,0.9798,0.9856,0.9871, 0.9844,0.9834,0.9869,0.9894,0.9861,0.9890,0.9844,0.9883,
0.9910,0.9886,0.9877,0.9860,0.9919,0.9898,0.9912,0.9890, 0.9910,0.9934,0.9961,0.9911,0.9904,0.9938,0.9931,0.9969,
0.9962,0.9912,0.9959,0.9970,0.9953,0.9992,0.9953,1.0020, 0.9993,0.9981,1.0009,0.9965,1.0003,0.9987,1.0041,1.0000,
0.9994,1.0028,1.0016,1.0053,0.9995,1.0036,1.0054,1.0030, 1.0048,1.0072,1.0034,1.0052,1.0071,1.0015,1.0074,1.0089,
1.0062,1.0052,1.0086,1.0111,1.0076,1.0105,1.0058,1.0097, 1.0122,1.0096,1.0085,1.0066,1.0123,1.0100,1.0112,1.0088,
1.0106,1.0128,1.0152,1.0100,1.0091,1.0123,1.0113,1.0149, 1.0140,1.0087,1.0131,1.0139,1.0120,1.0156,1.0114,1.0178,
1.0153,1.0136,1.0162,1.0109,1.0147,1.0125,1.0180,1.0130, 1.0127,1.0160,1.0142,1.0179,1.0110,1.0151,1.0167,1.0136,
1.0160,1.0184,1.0137,1.0154,1.0170,1.0105,1.0166,1.0179, 1.0151,1.0137,1.0171,1.0195,1.0154,1.0183,1.0128,1.0168,
1.0197,1.0166,1.0152,1.0129,1.0189,1.0162,1.0173,1.0144, 1.0161,1.0183,1.0207,1.0147,1.0135,1.0168,1.0155,1.0193,
1.0178,1.0118,1.0164,1.0172,1.0149,1.0187,1.0139,1.0208, 1.0169,1.0152,1.0178,1.0125,1.0163,1.0141,1.0196,1.0146,
1.0132,1.0161,1.0144,1.0176,1.0112,1.0148,1.0161,1.0132, 1.0147,1.0167,1.0123,1.0137,1.0150,1.0090,1.0143,1.0154,
1.0121,1.0107,1.0136,1.0157,1.0118,1.0143,1.0091,1.0126, 1.0148,1.0119,1.0104,1.0082,1.0135,1.0109,1.0117,1.0090,
1.0104,1.0123,1.0143,1.0088,1.0075,1.0104,1.0090,1.0123, 1.0110,1.0055,1.0095,1.0101,1.0078,1.0112,1.0066,1.0128,
1.0096,1.0079,1.0101,1.0052,1.0084,1.0063,1.0111,1.0065, 1.0053,1.0082,1.0064,1.0096,1.0032,1.0068,1.0080,1.0051,
1.0066,1.0086,1.0042,1.0056,1.0069,1.0009,1.0062,1.0073, 1.0040,1.0026,1.0056,1.0077,1.0038,1.0063,1.0012,1.0047,
1.0069,1.0040,1.0026,1.0004,1.0057,1.0031,1.0040,1.0013, 1.0028,1.0047,1.0068,1.0013,1.0000,1.0029,1.0016,1.0049,
1.0038,0.9983,1.0024,1.0030,1.0007,1.0041,0.9996,1.0058, 1.0028,1.0011,1.0034,0.9985,1.0017,0.9996,1.0045,1.0000];
const foldOutPhase = [0.134,0.102,0.120,0.123,0.064,0.077,0.025,0.020,0.123,0.163,0.261,0.278,0.259,0.251,0.237,0.319,0.283,0.230,0.385,0.514,0.556,0.601,0.563,0.638,0.602,0.520,0.781,0.842,0.831,0.777,0.800,0.873,0.889,0.918,0.930,0.871,0.700,0.718,0.669,0.539,0.496,0.733,0.846,0.877,0.938,0.550,0.583,0.434,0.262,0.300,0.012,0.045,0.150,0.205,0.460,0.470,0.655,0.690,0.750,0.905,0.960,0.990];
const foldOutFlux = [1.0532,1.0232,1.0180,1.0167,1.0107,1.0125,1.0186,1.0080,1.0037,1.0023,1.0116,1.0103,1.0085,1.0015,1.0000,1.0006,0.9980,0.9940,1.0053,1.0348,1.0401,1.0438,1.0308,1.0320,1.0286,1.0277,1.0520,1.0591,1.0316,1.0300,1.0270,1.0280,1.0275,1.0229,1.0198,1.0198,1.0286,1.0286,1.0260,0.9958,0.9947,1.0003,0.9958,0.9924,0.9919,0.9992,1.0003,0.9817,0.9975,0.9990,1.0075,1.0045,0.9965,0.9920,0.9955,0.9965,1.0095,1.0080,1.0060,0.9965,0.9935,0.9940];

// ticks and labels
const p1XMajor=[0,20,40,60], p1XLabels=["0","20","40","60"], p1XMinor=[5,10,15,25,30,35,45,50,55,65,70];
const p1YMajor=[1400,1450,1500,1550], p1YLabels=["1400","1450","1500","1550"];
const p1YMinor=[1380,1390,1410,1420,1430,1440,1460,1470,1480,1490,1510,1520,1530,1540,1560];
const p2XMajor=[0.1,1,10], p2XLabels=["0.1","1.0","10.0"];
const p2XMinor=[0.06,0.07,0.08,0.09,0.2,0.3,0.4,0.5,0.6,0.7,0.8,0.9,2,3,4,5,6,7,8,9,20,30];
const p2YMajor=[0,500,1000,1500], p2YLabels=["0","500","1000","1500"];
const p2YMinor=[100,200,300,400,600,700,800,900,1100,1200,1300,1400];
const p3XMajor=[0,0.2,0.4,0.6,0.8,1.0], p3XLabels=["0.0","0.2","0.4","0.6","0.8","1.0"];
const p3XMinor=[0.05,0.1,0.15,0.25,0.3,0.35,0.45,0.5,0.55,0.65,0.7,0.75,0.85,0.9,0.95];
const p3YMajor=[0.94,0.96,0.98,1.00,1.02,1.04,1.06], p3YLabels=["0.94","0.96","0.98","1.00","1.02","1.04","1.06"];
const p3YMinor=[0.945,0.95,0.955,0.965,0.97,0.975,0.985,0.99,0.995,1.005,1.01,1.015,1.025,1.03,1.035,1.045,1.05,1.055];

// ---------------- DRAW ----------------
const FONT='"Liberation Sans", Arial, Helvetica, sans-serif';
const TOP=70.5, BOT=595.5, FS=46;
const svg=d3.select('#c');
svg.append('rect').attr('width',2005).attr('height',720).attr('fill','#fff');
svg.append('rect').attr('x',1.5).attr('y',1.5).attr('width',2002).attr('height',717)
   .attr('fill','none').attr('stroke','#000').attr('stroke-width',3);

function panel(o){
  const g=svg.append('g');
  const [L,R]=o.x.range();
  o.draw(g);
  g.append('rect').attr('x',L).attr('y',TOP).attr('width',R-L).attr('height',BOT-TOP)
   .attr('fill','none').attr('stroke','#000').attr('stroke-width',4);
  const sides=[[()=>d3.axisBottom(o.x),`translate(0,${BOT})`,o.xMaj,o.xMin],
               [()=>d3.axisTop(o.x),`translate(0,${TOP})`,o.xMaj,o.xMin],
               [()=>d3.axisLeft(o.y),`translate(${L},0)`,o.yMaj,o.yMin],
               [()=>d3.axisRight(o.y),`translate(${R},0)`,o.yMaj,o.yMin]];
  sides.forEach(([mk,tr,maj,min])=>{
    [[maj,-9],[min,-4.5]].forEach(([vals,sz])=>{
      const a=g.append('g').attr('transform',tr)
        .call(mk().tickValues(vals).tickSize(sz).tickSizeOuter(0).tickFormat(()=>''));
      a.select('.domain').remove();
      a.selectAll('text').remove();
      a.selectAll('line').attr('stroke','#000').attr('stroke-width',3.5);
    });
  });
  const bx=g.append('g').attr('transform',`translate(0,${BOT})`)
    .call(d3.axisBottom(o.x).tickValues(o.xMaj).tickFormat((d,i)=>o.xLab[i]).tickSize(0));
  bx.attr('font-size',null).attr('font-family',null);
  bx.select('.domain').remove(); bx.selectAll('line').remove();
  bx.selectAll('text').attr('y',59.5).attr('dy',null).attr('fill','#000')
    .style('font-size',FS+'px').style('font-family',FONT);
  const ly=g.append('g').attr('transform',`translate(${L},0)`)
    .call(d3.axisLeft(o.y).tickValues(o.yMaj).tickFormat((d,i)=>o.yLab[i]).tickSize(0));
  ly.attr('font-size',null).attr('font-family',null);
  ly.select('.domain').remove(); ly.selectAll('line').remove();
  const h=0.716*FS;
  ly.selectAll('text').attr('x',-o.yGap).attr('dy',null).attr('fill','#000')
    .style('font-size',FS+'px').style('font-family',FONT)
    .each(function(d){
      const yc=o.y(d); let c=yc;
      if(c-h/2<TOP) c=TOP+h/2;
      if(c+h/2>BOT) c=BOT-h/2;
      d3.select(this).attr('y',c-yc+h/2);
    });
  g.append('text').attr('x',o.xtX).attr('y',702).attr('text-anchor','middle')
   .style('font-size',FS+'px').text(o.xTitle);
  g.append('text').attr('transform',`translate(${o.ytX},${o.ytY}) rotate(-90)`)
   .attr('text-anchor','middle').style('font-size',FS+'px').text(o.yTitle);
}

function dots(g,x,y,xs,ys){
  g.append('g').selectAll('rect').data(d3.zip(xs,ys)).join('rect')
   .attr('x',d=>x(d[0])-1.35).attr('y',d=>y(d[1])-1.35)
   .attr('width',2.7).attr('height',2.7).attr('fill','#000');
}

// Panel 1
const x1=d3.scaleLinear([-0.9,71.8],[194,568]);
const y1=d3.scaleLinear([1376,1565.5],[BOT,TOP]);
panel({x:x1,y:y1,xMaj:p1XMajor,xMin:p1XMinor,yMaj:p1YMajor,yMin:p1YMinor,
  xLab:p1XLabels,yLab:p1YLabels,yGap:19,xTitle:"times- 2228 (d)",xtX:386.7,
  yTitle:"flux",ytX:38,ytY:325,
  draw:g=>{
    dots(g,x1,y1,lcTime,lcFlux); dots(g,x1,y1,lcTime2,lcFlux2);
    dots(g,x1,y1,lcTime3,lcFlux3); dots(g,x1,y1,lcOutTime,lcOutFlux);
  }});
const ann=svg.append('g');
ann.append('text').attr('x',254).attr('y',150.7).style('font-size','33px').text('(V-K)');
ann.append('text').attr('x',331).attr('y',157).style('font-size','22px').text('0');
ann.append('text').attr('x',341).attr('y',150.7).style('font-size','33px')
   .style('word-spacing','8px').text('= 5.56');

// Panel 2
const x2=d3.scaleLog([0.05,34.5],[894.7,1268.3]);
const y2=d3.scaleLinear([0,1500],[BOT,TOP]);
panel({x:x2,y:y2,xMaj:p2XMajor,xMin:p2XMinor,yMaj:p2YMajor,yMin:p2YMinor,
  xLab:p2XLabels,yLab:p2YLabels,yGap:13,xTitle:"Period",xtX:1080,
  yTitle:"Power",ytX:739,ytY:330.5,
  draw:g=>{
    g.append('path').datum(d3.zip(perPeriod,perPower))
     .attr('d',d3.line().x(d=>x2(d[0])).y(d=>y2(d[1])))
     .attr('fill','none').attr('stroke','#000').attr('stroke-width',3.2).attr('stroke-linejoin','round');
  }});
svg.append('text').attr('x',1070).attr('y',46).attr('text-anchor','middle')
   .style('font-size','57px').text(titleMain);

// Panel 3
const x3=d3.scaleLinear([0,1],[1595.3,1969.7]);
const y3=d3.scaleLinear([0.93525,1.06435],[BOT,TOP]);
panel({x:x3,y:y3,xMaj:p3XMajor,xMin:p3XMinor,yMaj:p3YMajor,yMin:p3YMinor,
  xLab:p3XLabels,yLab:p3YLabels,yGap:16,xTitle:"phase",xtX:1783.3,
  yTitle:"relative flux",ytX:1452,ytY:323.7,
  draw:g=>{
    dots(g,x3,y3,foldPhase,foldFlux); dots(g,x3,y3,foldPhase2,foldFlux2);
    dots(g,x3,y3,foldPhase3,foldFlux3); dots(g,x3,y3,foldOutPhase,foldOutFlux);
  }});
svg.append('text').attr('x',1790).attr('y',46).attr('text-anchor','middle')
   .style('font-size','57px').text(titlePeriod);
</script>
</body></html>
